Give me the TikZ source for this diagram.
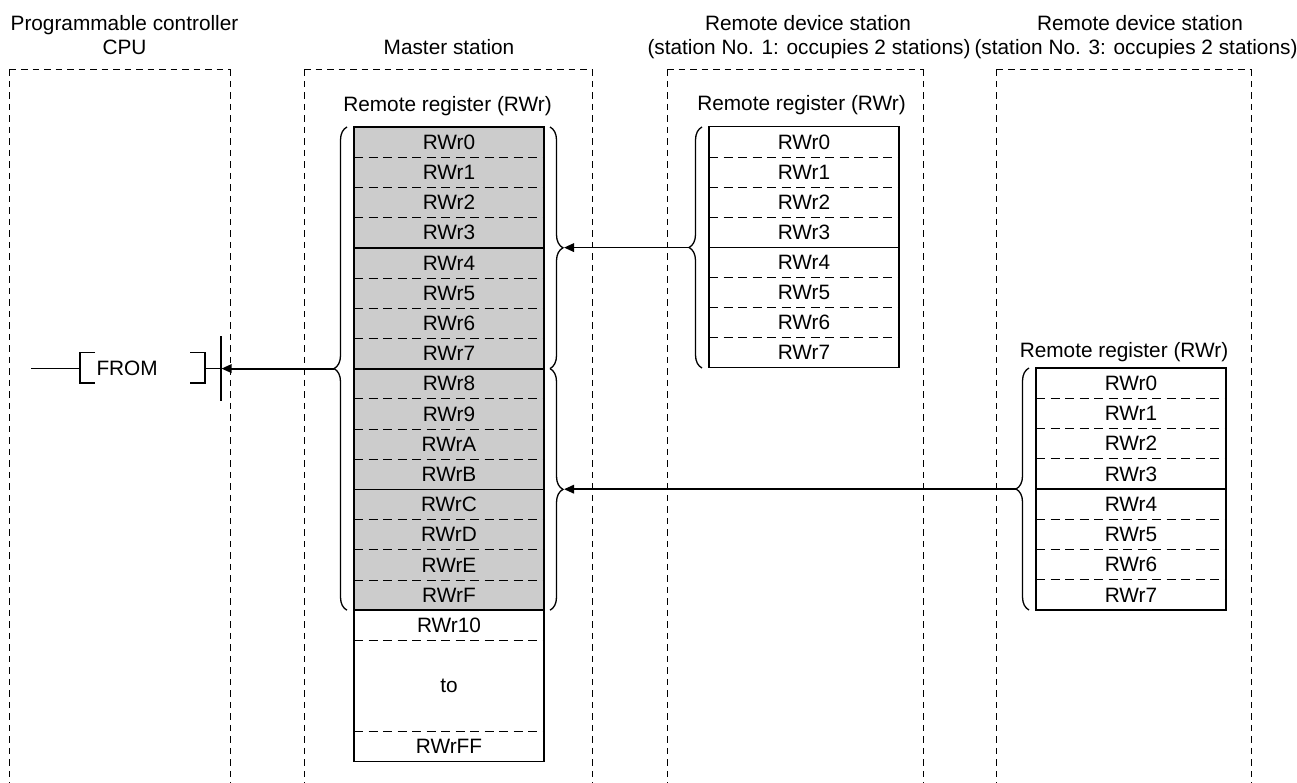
\documentclass[tikz,border=0pt]{standalone}
\usepackage{fontspec}
\setmainfont{Liberation Sans}
\usetikzlibrary{decorations.pathreplacing,arrows.meta}
\definecolor{cellgray}{RGB}{204,204,204}
\begin{document}
\begin{tikzpicture}[x=1pt,y=-1pt,
  every node/.style={font=\fontsize{20.8}{24}\selectfont, inner sep=0pt, outer sep=0pt},
  colbox/.style={line width=0.9pt, dash pattern=on 6.5pt off 5pt},
  mcell/.style={fill=cellgray, minimum width=190pt, minimum height=30.2pt},
  wcell/.style={minimum width=190pt, minimum height=30.2pt},
  dsep/.style={line width=0.9pt, dash pattern=on 9pt off 5.5pt},
  ssep/.style={line width=1.8pt},
  tbl/.style={line width=1.1pt},
  brc/.style={decorate, decoration={brace, amplitude=13pt}, line width=1.3pt},
  arr/.style={line width=1.8pt, -{Triangle[length=10pt,width=8.5pt]}},
  lad/.style={line width=1.2pt}
]
\useasboundingbox (0,0) rectangle (1297,783);

% column boxes
\foreach \l/\r in {9.5/230.5, 304/592, 667/923, 996.5/1251.5}{
  \draw[colbox] (\l,69.3) -- (\l,783);
  \draw[colbox] (\l,69.3) -- (\r,69.3);
  \draw[colbox] (\r,69.3) -- (\r,783);
}

% headers
\node[anchor=base] (h1a) at (124.5,30.7) {Programmable controller};
\node[anchor=base] (h1b) at (124.5,54.3) {CPU};
\node[anchor=base] (h2) at (449,54.3) {Master station};
\node[anchor=base] (h3a) at (808,30.7) {Remote device station};
\node[anchor=base] (h3b) at (809,54.3) {(station No. 1: occupies 2 stations)};
\node[anchor=base] (h4a) at (1140,30.7) {Remote device station};
\node[anchor=base] (h4b) at (1136,54.3) {(station No. 3: occupies 2 stations)};

% titles
\node[anchor=base] (mt) at (447.5,112) {Remote register (RWr)};
\node[anchor=base] (at) at (801.5,110.5) {Remote register (RWr)};
\node[anchor=base] (bt) at (1124,357.5) {Remote register (RWr)};

% master table
\foreach \i/\t in {0/RWr0,1/RWr1,2/RWr2,3/RWr3,4/RWr4,5/RWr5,6/RWr6,7/RWr7,8/RWr8,9/RWr9,10/RWrA,11/RWrB,12/RWrC,13/RWrD,14/RWrE,15/RWrF}
  \node[mcell] (m\i) at (449,{127+(\i+0.5)*30.2}) {\t};
\node[wcell] (m16) at (449,625.3) {RWr10};
\node[wcell, minimum height=91pt] (mto) at (449,686) {to};
\node[wcell, minimum height=30pt] (mFF) at (449,746.5) {RWrFF};
\foreach \i in {0,1,2,4,5,6,8,9,10,12,13,14,16}
  \draw[dsep] (m\i.south west) -- (m\i.south east);
\draw[dsep] (mto.south west) -- (mto.south east);
\foreach \i in {3,7,11,15}
  \draw[ssep] (m\i.south west) -- (m\i.south east);
\draw[tbl] (m0.north west) rectangle (mFF.south east);

% remote 1 table
\foreach \i in {0,...,7}
  \node[wcell] (a\i) at (804,{127+(\i+0.5)*30.1}) {RWr\i};
\foreach \i in {0,1,2,4,5,6}
  \draw[dsep] (a\i.south west) -- (a\i.south east);
\draw[ssep] (a3.south west) -- (a3.south east);
\draw[tbl] (a0.north west) rectangle (a7.south east);

% remote 2 table
\foreach \i in {0,...,7}
  \node[wcell] (b\i) at (1131,{368+(\i+0.5)*30.25}) {RWr\i};
\foreach \i in {0,1,2,4,5,6}
  \draw[dsep] (b\i.south west) -- (b\i.south east);
\draw[ssep] (b3.south west) -- (b3.south east);
\draw[tbl] (b0.north west) rectangle (b7.south east);

% braces
\draw[brc] (347,610.2) -- (347,127);
\draw[brc] (550,127) -- (550,368.6);
\draw[brc] (550,368.6) -- (550,610.2);
\draw[brc] (702,368) -- (702,127);
\draw[brc] (1029,610) -- (1029,368);

% brace tips
\coordinate (mLtip) at (334,368.6);
\coordinate (mR1tip) at (564,247.6);
\coordinate (mR2tip) at (564,489.2);
\coordinate (aTip) at (689,247.6);
\coordinate (bTip) at (1016,489.2);
\coordinate (contact) at (221.5,368.6);

% arrows
\draw[arr] (aTip) -- (mR1tip);
\draw[arr] (bTip) -- (mR2tip);
\draw[arr] (mLtip) -- (contact);

% FROM instruction
\coordinate (rail) at (31,368.6);
\coordinate (lb) at (80,368.6);
\coordinate (rb) at (205,368.6);
\coordinate (ct) at (220.5,368.6);
\draw[lad] (rail) -- (lb);
\draw[lad] (95,352.5) -- (80,352.5) -- (80,383) -- (95,383);
\node[anchor=base west] (from) at (96.5,375.5) {FROM};
\draw[lad] (190,352.5) -- (205,352.5) -- (205,383) -- (190,383);
\draw[lad] (rb) -- (ct);
\draw[line width=2pt] (220.5,336) -- (220.5,400.5);
\end{tikzpicture}
\end{document}
